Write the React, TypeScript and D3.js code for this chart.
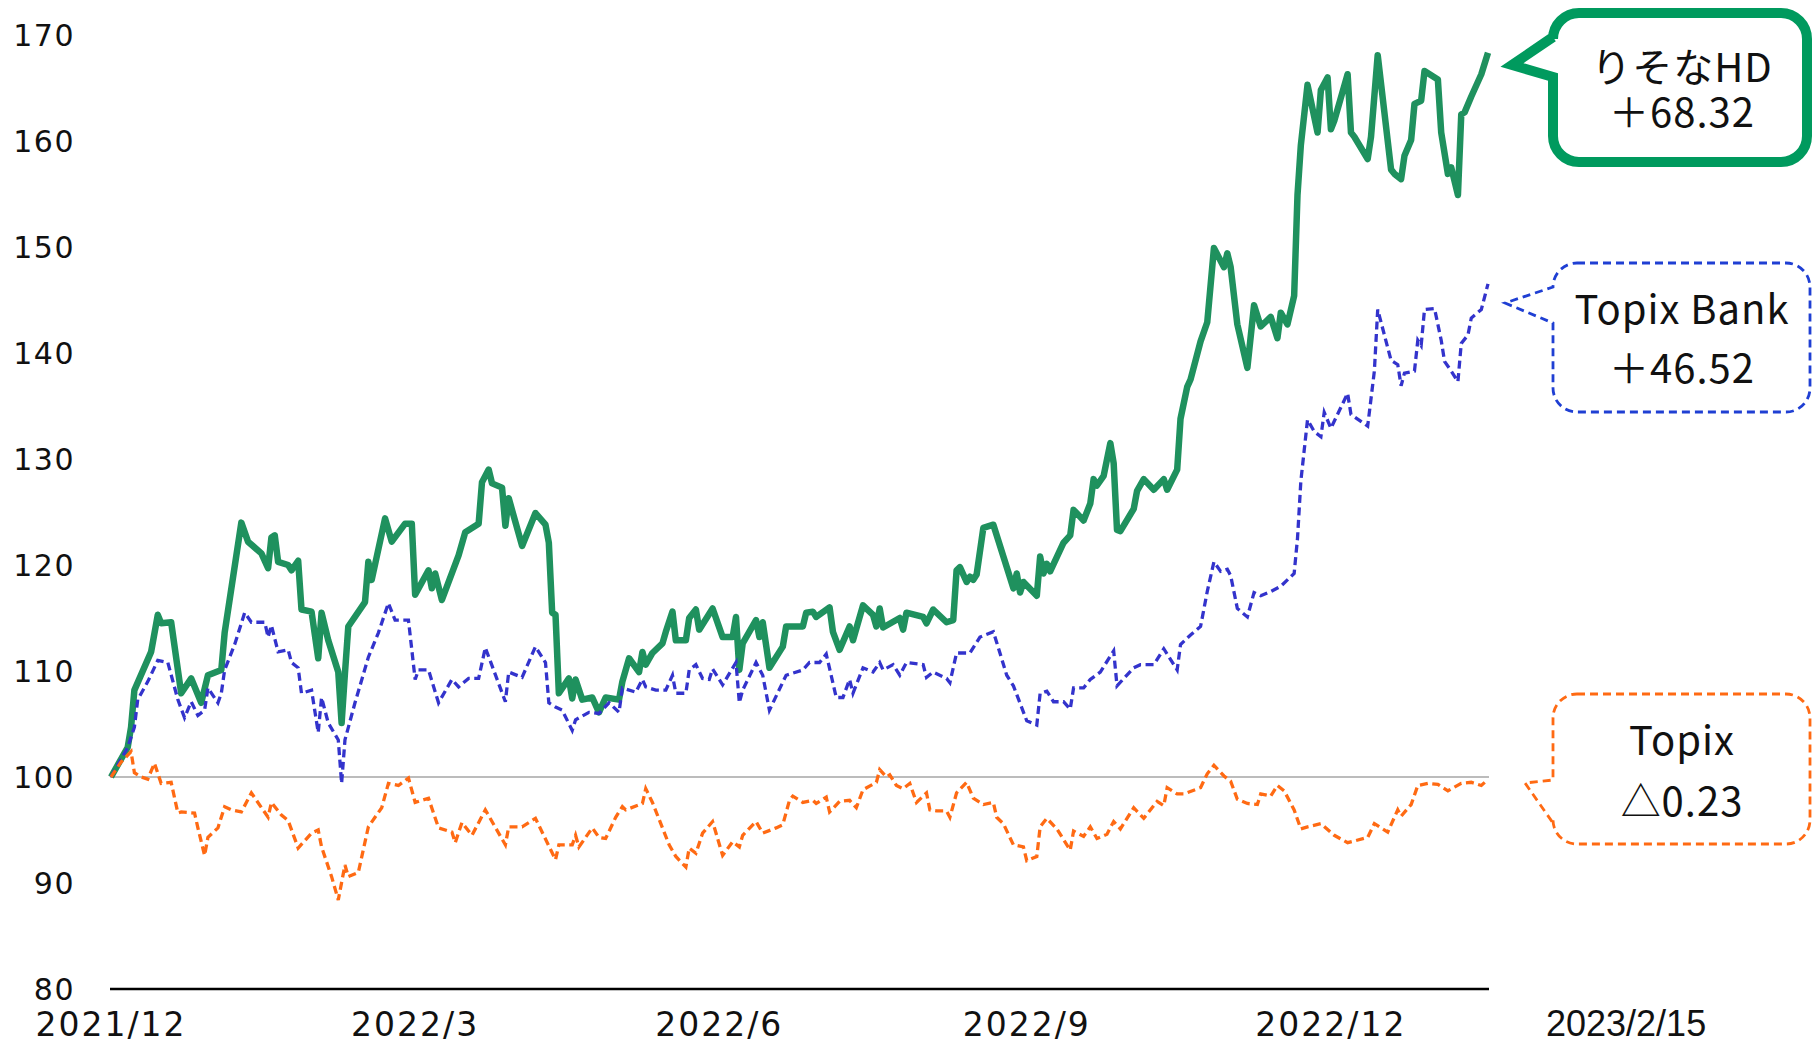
import { useEffect, useRef } from "react";
import * as d3 from "d3";

// [days since 2021/12/30, index value]
const resona: [number, number][] = [
  [0, 100], [5, 102.8], [6, 104.7], [7, 108.2], [12, 111.8], [14, 115.3], [15, 114.5], [18, 114.6],
  [21, 107.9], [24, 109.3], [27, 107.0], [29, 109.6], [33, 110.1], [34, 113.6], [39, 124.0], [41, 122.2],
  [45, 121.1], [47, 119.7], [48, 122.6], [49, 122.8], [50, 120.3], [53, 120.0], [54, 119.5], [56, 120.4],
  [57, 115.8], [60, 115.6], [62, 111.2], [63, 115.5], [65, 112.9], [68, 109.9], [69, 105.1], [70, 109.8],
  [71, 114.2], [76, 116.5], [77, 120.3], [78, 118.6], [82, 124.4], [84, 122.2], [88, 123.9], [90, 123.9],
  [91, 117.2], [95, 119.5], [96, 117.8], [97, 119.2], [99, 116.7], [104, 120.9], [106, 123.1], [110, 123.9],
  [111, 127.8], [113, 129.0], [114, 127.7], [117, 127.3], [118, 123.7], [119, 126.3], [123, 121.8], [127, 124.9],
  [130, 123.8], [131, 122.1], [132, 115.5], [133, 115.3], [134, 107.9], [137, 109.3], [138, 107.4], [139, 109.2],
  [141, 107.3], [144, 107.5], [146, 106.1], [148, 107.5], [152, 107.3], [153, 109.0], [155, 111.2], [158, 109.9],
  [159, 111.8], [160, 110.6], [162, 111.7], [165, 112.6], [166, 113.7], [168, 115.6], [169, 112.9], [172, 112.9],
  [173, 115.0], [175, 115.8], [176, 113.9], [180, 115.9], [183, 113.2], [186, 113.2], [187, 115.1], [188, 110.1],
  [189, 112.6], [193, 114.8], [194, 113.2], [195, 114.6], [197, 110.3], [201, 112.3], [202, 114.2], [207, 114.2],
  [208, 115.5], [210, 115.6], [211, 115.1], [215, 116.0], [216, 113.7], [218, 112.0], [221, 114.2], [222, 112.9],
  [225, 116.2], [228, 115.3], [229, 114.2], [230, 115.9], [231, 114.1], [236, 115.0], [237, 113.9], [238, 115.5],
  [243, 115.1], [244, 114.5], [246, 115.8], [250, 114.6], [252, 114.8], [253, 119.5], [254, 119.8], [256, 118.4],
  [257, 118.9], [258, 118.6], [259, 119.1], [261, 123.5], [264, 123.8], [267, 120.8], [270, 117.8], [271, 119.2],
  [272, 117.4], [273, 118.4], [277, 117.1], [278, 120.8], [279, 119.2], [280, 120.1], [281, 119.4], [285, 122.1],
  [287, 122.8], [288, 125.2], [291, 124.2], [293, 125.8], [294, 128.1], [295, 127.5], [297, 128.4], [299, 131.5],
  [300, 129.6], [301, 123.3], [302, 123.2], [306, 125.3], [307, 127.0], [309, 128.1], [312, 127.1], [315, 128.1],
  [316, 127.1], [319, 129.0], [320, 133.8], [322, 136.8], [323, 137.5], [326, 141.1], [328, 142.9], [330, 149.9],
  [333, 148.1], [334, 149.4], [335, 148.1], [337, 142.7], [340, 138.6], [342, 144.5], [344, 142.5], [347, 143.4],
  [349, 141.4], [350, 143.8], [352, 142.7], [354, 145.4], [355, 154.9], [356, 159.6], [358, 165.3], [361, 160.8],
  [362, 164.8], [364, 166.0], [365, 161.1], [366, 161.9], [370, 166.3], [371, 160.8], [372, 160.4], [376, 158.3],
  [377, 160.4], [379, 168.1], [383, 157.3], [384, 156.9], [386, 156.4], [387, 158.6], [389, 160.1], [390, 163.5],
  [392, 163.8], [393, 166.6], [397, 165.8], [398, 160.8], [400, 156.9], [401, 157.5], [403, 154.9], [404, 162.5],
  [405, 162.7], [407, 164.2], [410, 166.3], [412, 168.32],
];

const topixBank: [number, number][] = [
  [0, 100], [5, 102.8], [7, 104.7], [8, 107.3], [11, 109.0], [14, 111.0], [17, 110.8], [20, 107.3],
  [22, 105.6], [24, 107.1], [26, 105.8], [28, 106.3], [29, 108.4], [32, 107.0], [33, 107.9], [34, 110.1],
  [37, 112.5], [40, 115.5], [42, 114.6], [46, 114.6], [47, 113.2], [48, 114.3], [50, 111.8], [53, 112.0],
  [54, 110.8], [56, 110.3], [57, 107.9], [60, 108.2], [62, 104.2], [63, 107.5], [65, 105.1], [68, 103.5],
  [69, 99.4], [70, 103.5], [73, 107.0], [77, 111.3], [80, 113.6], [83, 116.4], [85, 114.8], [89, 114.8],
  [91, 109.2], [92, 110.1], [95, 110.1], [98, 107.0], [102, 109.2], [104, 108.5], [107, 109.3], [110, 109.3],
  [112, 112.2], [118, 107.1], [119, 109.9], [123, 109.4], [127, 112.3], [130, 110.8], [131, 107.0], [133, 106.6],
  [135, 106.3], [138, 104.4], [139, 105.4], [143, 106.1], [146, 106.0], [149, 107.0], [152, 106.1], [153, 108.4],
  [157, 108.0], [159, 109.2], [160, 108.5], [163, 108.2], [166, 108.2], [168, 109.6], [169, 107.9], [172, 107.9],
  [173, 110.1], [175, 110.6], [177, 109.3], [179, 109.2], [180, 110.2], [183, 108.7], [187, 110.8], [188, 107.0],
  [189, 108.2], [193, 110.8], [195, 109.6], [197, 106.3], [202, 109.6], [207, 110.1], [209, 110.8], [212, 110.8],
  [214, 111.6], [217, 107.5], [219, 107.5], [221, 109.2], [222, 107.9], [225, 110.3], [228, 109.9], [230, 110.8],
  [231, 110.1], [234, 110.6], [236, 109.6], [238, 110.8], [243, 110.6], [244, 109.4], [246, 109.9], [250, 109.3],
  [251, 108.9], [253, 111.7], [257, 111.7], [260, 113.2], [264, 113.7], [265, 112.7], [268, 109.6], [270, 108.6],
  [274, 105.3], [277, 104.9], [278, 107.9], [280, 108.1], [282, 107.1], [285, 107.1], [287, 106.4], [288, 108.4],
  [291, 108.4], [293, 109.2], [296, 109.9], [300, 111.9], [301, 108.6], [306, 110.3], [308, 110.6], [312, 110.6],
  [315, 112.1], [317, 111.1], [319, 110.1], [320, 112.5], [323, 113.4], [326, 114.2], [328, 117.5], [330, 120.3],
  [332, 119.4], [334, 119.6], [335, 119.0], [337, 115.9], [340, 115.1], [342, 117.4], [344, 117.1], [347, 117.5],
  [350, 118.0], [354, 119.2], [355, 122.5], [356, 127.9], [358, 133.7], [360, 132.6], [362, 132.1], [363, 134.4],
  [365, 132.9], [370, 136.2], [371, 134.2], [376, 133.1], [378, 138.3], [379, 144.1], [383, 139.3], [385, 138.9],
  [386, 136.9], [387, 138.1], [390, 138.3], [391, 141.2], [392, 140.7], [393, 144.1], [396, 144.2], [398, 141.2],
  [399, 139.2], [401, 138.3], [403, 137.3], [404, 140.9], [406, 141.7], [407, 143.3], [410, 144.1], [412, 146.52],
];

const topix: [number, number][] = [
  [0, 100], [3, 101.4], [6, 102.4], [7, 100.4], [9, 100.0], [11, 99.8], [13, 101.3], [15, 99.4],
  [18, 99.5], [20, 96.6], [21, 96.7], [25, 96.6], [26, 95.2], [28, 92.6], [29, 94.3], [32, 95.2],
  [34, 97.2], [36, 96.9], [39, 96.7], [42, 98.5], [47, 96.2], [48, 97.6], [51, 96.4], [53, 95.9],
  [56, 93.3], [60, 94.7], [62, 95.0], [63, 93.4], [66, 90.6], [68, 88.4], [70, 91.7], [71, 90.6],
  [74, 91.0], [77, 95.3], [81, 97.1], [83, 99.4], [86, 99.2], [89, 99.9], [91, 97.6], [95, 98.0],
  [98, 95.2], [102, 94.8], [103, 93.8], [105, 95.7], [108, 94.5], [112, 96.9], [118, 93.6], [119, 95.3],
  [123, 95.3], [127, 96.1], [133, 92.2], [134, 93.6], [138, 93.6], [139, 94.5], [140, 93.4], [144, 95.2],
  [146, 94.3], [148, 94.2], [151, 96.2], [153, 97.2], [154, 96.9], [159, 97.5], [160, 98.9], [162, 97.6],
  [167, 93.6], [169, 92.5], [172, 91.5], [173, 93.3], [175, 92.8], [177, 94.7], [180, 95.8], [183, 92.6],
  [186, 93.9], [188, 93.4], [189, 94.5], [193, 95.8], [195, 94.7], [199, 95.2], [201, 95.5], [203, 97.8],
  [204, 98.2], [207, 97.6], [210, 97.8], [211, 97.5], [214, 98.1], [215, 96.7], [218, 97.7], [221, 97.8],
  [223, 97.1], [225, 98.8], [229, 99.5], [230, 100.7], [232, 100.0], [233, 100.2], [235, 99.2], [237, 98.9],
  [239, 99.4], [241, 97.6], [244, 98.5], [245, 96.9], [247, 96.8], [250, 96.8], [251, 96.2], [253, 98.5],
  [256, 99.5], [258, 98.0], [261, 97.4], [264, 97.6], [265, 96.2], [267, 95.6], [270, 93.6], [273, 93.4],
  [274, 92.1], [277, 92.5], [278, 95.3], [280, 96.1], [283, 95.1], [287, 93.1], [288, 94.9], [291, 94.4],
  [293, 95.3], [295, 94.2], [298, 94.6], [300, 95.8], [302, 95.1], [306, 97.1], [309, 96.1], [313, 97.7],
  [315, 97.3], [316, 99.0], [319, 98.4], [321, 98.4], [326, 99.0], [328, 100.3], [330, 101.1], [333, 100.1],
  [335, 99.6], [337, 97.9], [340, 97.5], [343, 97.4], [344, 98.4], [347, 98.2], [349, 99.2], [351, 98.7],
  [354, 96.9], [356, 95.1], [358, 95.3], [362, 95.6], [366, 94.5], [370, 93.8], [376, 94.3], [378, 95.6],
  [382, 94.8], [385, 96.9], [386, 96.3], [389, 97.4], [391, 99.2], [394, 99.4], [397, 99.3], [400, 98.7],
  [404, 99.4], [407, 99.5], [410, 99.2], [412, 99.77],
];

const yTicks = [80, 90, 100, 110, 120, 130, 140, 150, 160, 170];
const xTickDays = [0, 91, 182, 274, 365];
const xTickLabels = ["2021/12", "2022/3", "2022/6", "2022/9", "2022/12"];
const endLabel = "2023/2/15";

const callouts = [
  { lines: ["りそなHD", "＋68.32"], color: "#009a5e" },
  { lines: ["Topix Bank", "＋46.52"], color: "#1f3fd3" },
  { lines: ["Topix", "△0.23"], color: "#ff6a13" },
];

const BASE = new Date(2021, 11, 30);
const END = new Date(2023, 1, 15);

function bubble(x0: number, y0: number, x1: number, y1: number, r: number,
  t1: number, tipX: number, tipY: number, t2: number) {
  return `M${x0 + r},${y0} H${x1 - r} A${r},${r} 0 0 1 ${x1},${y0 + r} V${y1 - r}` +
    ` A${r},${r} 0 0 1 ${x1 - r},${y1} H${x0 + r} A${r},${r} 0 0 1 ${x0},${y1 - r}` +
    ` V${t2} L${tipX},${tipY} L${x0},${t1} V${y0 + r} A${r},${r} 0 0 1 ${x0 + r},${y0} Z`;
}

export default function App() {
  const svgRef = useRef<SVGSVGElement>(null);

  useEffect(() => {
    if (!svgRef.current) return;
    const svg = d3.select(svgRef.current);
    svg.selectAll("*").remove();

    const x = d3.scaleTime().domain([BASE, END]).range([111, 1488]);
    const y = d3.scaleLinear().domain([80, 170]).range([989, 35]);
    const day = (d: number) => d3.timeDay.offset(BASE, d);

    // reference line at 100
    svg.append("line")
      .attr("x1", 110).attr("x2", 1489)
      .attr("y1", y(100)).attr("y2", y(100))
      .style("stroke", "#a6a6a6").style("stroke-width", 1.6);

    // x axis baseline
    svg.append("line")
      .attr("x1", 110).attr("x2", 1489)
      .attr("y1", y(80)).attr("y2", y(80))
      .style("stroke", "#000").style("stroke-width", 2.5);

    svg.append("g").selectAll("text")
      .data(yTicks)
      .enter()
      .append("text")
      .attr("x", 75)
      .attr("y", (d) => y(d) + 11)
      .attr("text-anchor", "end")
      .style("font-family", "'DejaVu Sans', sans-serif")
      .style("font-size", "30px")
      .style("letter-spacing", "1.5px")
      .style("fill", "#111")
      .text((d) => d);

    svg.append("g").selectAll("text")
      .data(xTickDays)
      .enter()
      .append("text")
      .attr("x", (d) => x(day(d)))
      .attr("y", 1036)
      .attr("text-anchor", "middle")
      .style("font-family", "'DejaVu Sans', sans-serif")
      .style("font-size", "33px")
      .style("letter-spacing", "2px")
      .style("fill", "#111")
      .text((d, i) => xTickLabels[i]);

    svg.append("text")
      .attr("x", 1546)
      .attr("y", 1036)
      .style("font-family", "'Liberation Sans', Arial, sans-serif")
      .style("font-size", "36px")
      .style("fill", "#111")
      .text(endLabel);

    const line = d3.line<[number, number]>()
      .x((d) => x(day(d[0])))
      .y((d) => y(d[1]));

    svg.append("path")
      .datum(resona)
      .attr("d", line)
      .style("fill", "none")
      .style("stroke", "#1f915e")
      .style("stroke-width", 6.5)
      .style("stroke-linejoin", "round");

    svg.append("path")
      .datum(topixBank)
      .attr("d", line)
      .style("fill", "none")
      .style("stroke", "#3333cc")
      .style("stroke-width", 3.3)
      .style("stroke-dasharray", "8 4.5");

    svg.append("path")
      .datum(topix)
      .attr("d", line)
      .style("fill", "none")
      .style("stroke", "#ff6a13")
      .style("stroke-width", 3.3)
      .style("stroke-dasharray", "8 4.5");

    // callouts
    const shapes = [
      { d: bubble(1553, 13, 1807, 162, 26, 37, 1512, 65, 77), width: 10, dash: null, lines: [68, 113] },
      { d: bubble(1553, 263, 1810, 412, 24, 287, 1505, 303, 323), width: 2.8, dash: "8 5", lines: [310, 369] },
      { d: bubble(1553, 694, 1810, 844, 24, 780, 1525, 783, 823), width: 2.8, dash: "8 5", lines: [741, 802] },
    ];

    shapes.forEach((s, i) => {
      const c = callouts[i];
      svg.append("path")
        .attr("d", s.d)
        .style("fill", "#fff")
        .style("stroke", c.color)
        .style("stroke-width", s.width)
        .style("stroke-linejoin", "miter")
        .style("stroke-dasharray", s.dash);

      c.lines.forEach((t, k) => {
        svg.append("text")
          .attr("x", 1682)
          .attr("y", s.lines[k] + 14)
          .attr("text-anchor", "middle")
          .style("font-family", "'Noto Sans CJK JP', 'Noto Sans', sans-serif")
          .style("font-size", "40px")
          .style("letter-spacing", "1px")
          .style("fill", "#111")
          .text(t);
      });
    });
  }, []);

  return (
    <svg
      ref={svgRef}
      width={1814}
      height={1045}
      style={{ position: "absolute", left: 0, top: 0, background: "#fff" }}
    />
  );
}
